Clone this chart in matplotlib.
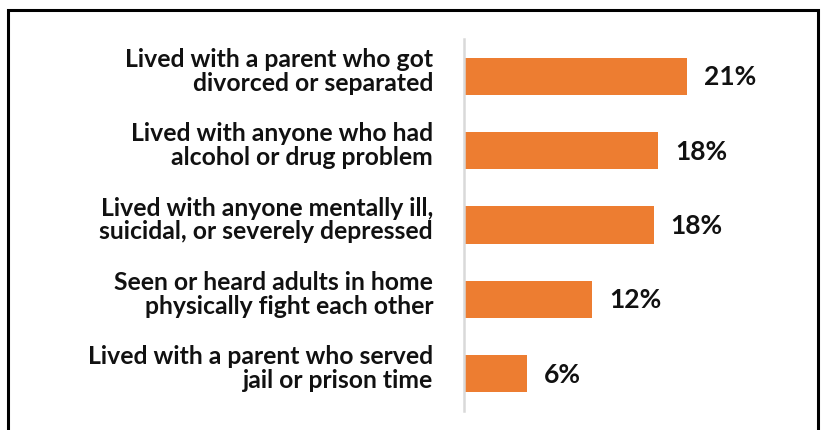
import matplotlib.pyplot as plt
from matplotlib.patches import Rectangle

# data
categories = [
    "Lived with a parent who got\ndivorced or separated",
    "Lived with anyone who had\nalcohol or drug problem",
    "Lived with anyone mentally ill,\nsuicidal, or severely depressed",
    "Seen or heard adults in home\nphysically fight each other",
    "Lived with a parent who served\njail or prison time",
]
values = [21.0, 18.3, 17.9, 12.1, 5.9]
value_labels = ["21%", "18%", "18%", "12%", "6%"]

BAR_COLOR = "#ED7D31"
FONT = "Lato"

W, H = 822, 431
fig = plt.figure(figsize=(W / 100, H / 100), dpi=100)

# outer black frame (bottom edge runs off the image)
fig.patches.append(Rectangle((8 / W, -0.05), (818 - 8) / W, 1.05 - 11 / H,
                             transform=fig.transFigure, fill=False,
                             edgecolor="black", linewidth=2.2))

ax_left = 464 / W
ax_bottom = 1 - 412 / H
ax_top = 1 - 40 / H
px_per_unit = 10.6
xmax = 30
ax = fig.add_axes([ax_left, ax_bottom, xmax * px_per_unit / W, ax_top - ax_bottom])

ypos = list(range(len(categories)))
ax.barh(ypos, values, height=0.5, color=BAR_COLOR)

ax.set_xlim(0, xmax)
ax.set_ylim(len(categories) - 0.5, -0.5)

for y, v, lab in zip(ypos, values, value_labels):
    ax.annotate(lab, xy=(v, y), xytext=(17, 0), textcoords="offset pixels",
                ha="left", va="center", fontsize=19, fontweight="bold",
                family=FONT, color="#111111")

for y, cat in zip(ypos, categories):
    ax.annotate(cat, xy=(0, y), xytext=(-31, 6), textcoords="offset pixels",
                ha="right", va="center", fontsize=17.8, fontweight="bold",
                family=FONT, color="#111111", multialignment="right",
                linespacing=1.05)

for s in ["top", "right", "bottom"]:
    ax.spines[s].set_visible(False)
ax.spines["left"].set_color("#D9D9D9")
ax.spines["left"].set_linewidth(1.8)
ax.set_xticks([])
ax.set_yticks([])

fig.savefig("out.png", dpi=100)
